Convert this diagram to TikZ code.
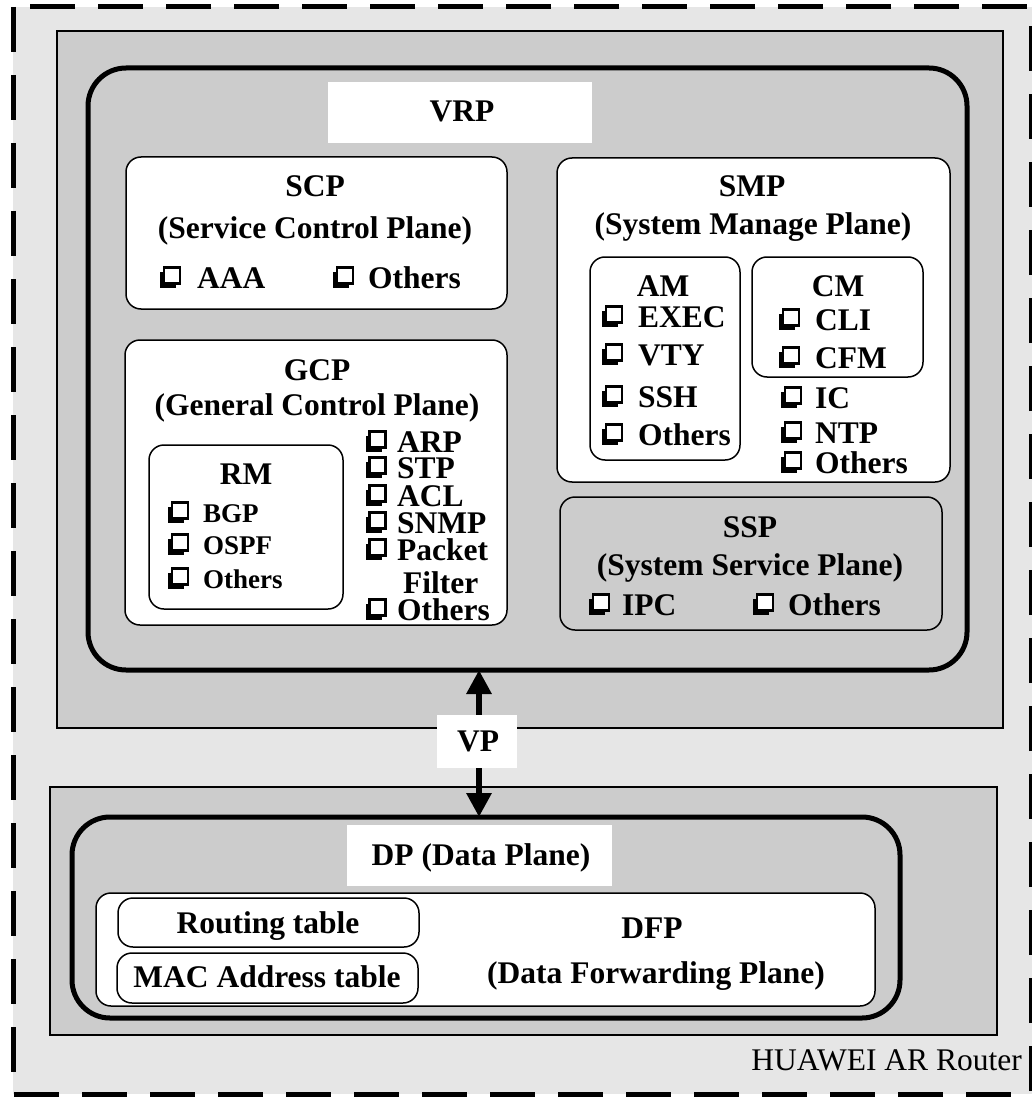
\documentclass[tikz,border=0pt]{standalone}
\usepackage{fontspec}
\setmainfont{Liberation Serif}
\usetikzlibrary{arrows.meta}
\definecolor{outerbg}{HTML}{E6E6E6}
\definecolor{planebg}{HTML}{CCCCCC}

% box node from its corner coordinates: name, style, x1, y1, x2, y2
\newcommand{\blk}[6]{%
  \node[#2, minimum width=#5pt-#3pt, minimum height=#6pt-#4pt]
    (#1) at ({(#3+#5)/2},{(#4+#6)/2}) {};}
% shadowed check box centred on (x,y)
\newcommand{\chk}[2]{%
  \begin{scope}[shift={(#1,#2)}]
    \fill[black] (-10,-6) rectangle (6,10);
    \filldraw[fill=white, draw=black, line width=2.2pt] (-6,-10) rectangle (10,6);
  \end{scope}}
% checklist entry: name, box x, text x, baseline, text
\newcommand{\itm}[5]{%
  \chk{#2}{#4-10.5}
  \node[item] (#1) at (#3,#4) {#5};}
\newcommand{\sitm}[5]{%
  \chk{#2}{#4-9.5}
  \node[sitem] (#1) at (#3,#4) {#5};}

\begin{document}
\begin{tikzpicture}[x=1pt,y=-1pt,
  plane/.style={draw, line width=2.5pt, fill=planebg, inner sep=0pt, outer sep=0pt},
  frame/.style={draw, line width=5pt, fill=planebg, rounded corners=38pt, inner sep=0pt, outer sep=0pt},
  card/.style={draw, line width=1.5pt, fill=white, rounded corners=15pt, inner sep=0pt, outer sep=0pt},
  graycard/.style={card, fill=planebg},
  tag/.style={fill=white, inner sep=0pt, outer sep=0pt},
  title/.style={font=\bfseries\fontsize{31.5}{34}\selectfont, inner sep=0pt, anchor=base},
  item/.style={title, anchor=base west},
  sitem/.style={font=\bfseries\fontsize{27}{30}\selectfont, inner sep=0pt, anchor=base west},
  vparrow/.style={line width=6pt, {Triangle[length=24pt,width=24pt]}-{Triangle[length=24pt,width=24pt]}}
]
\useasboundingbox (0,0) rectangle (1032,1099);

% router enclosure
\fill[outerbg] (13,7) rectangle (1032,1094);
\draw[line width=5pt, dash pattern=on 45pt off 23pt] (13,7) rectangle (1031,1094);
\node[font=\fontsize{31.5}{34}\selectfont, inner sep=0pt, anchor=base east] (router) at (1022,1070) {HUAWEI AR Router};

% ---------- control part ----------
\blk{ctrl}{plane}{57}{31}{1003}{728}
\blk{vrp}{frame}{88}{68}{967}{670}
\blk{vrptag}{tag}{328}{82}{592}{143}
\node[title] (vrplbl) at (462,122) {VRP};

% SCP
\blk{scp}{card}{126}{157}{507}{309}
\node[title] (scpA) at (315,197) {SCP};
\node[title] (scpB) at (315,238) {(Service Control Plane)};
\itm{aaa}{170}{197}{288}{AAA}
\itm{scpo}{343}{368}{288}{Others}

% GCP
\blk{gcp}{card}{125}{340}{507}{625}
\node[title] (gcpA) at (317,380) {GCP};
\node[title] (gcpB) at (317,415) {(General Control Plane)};
\blk{rm}{card}{149}{445}{343}{609}
\node[title] (rmlbl) at (246,484) {RM};
\sitm{bgp}{178}{203}{522}{BGP}
\sitm{ospf}{178}{203}{554}{OSPF}
\sitm{rmo}{178}{203}{588}{Others}
\itm{arp}{375.5}{397}{452}{ARP}
\itm{stp}{375.5}{397}{478}{STP}
\itm{acl}{375.5}{397}{506}{ACL}
\itm{snmp}{375.5}{397}{533}{SNMP}
\itm{pkt}{375.5}{397}{560}{Packet}
\node[item] (filt) at (403,593) {Filter};
\itm{gcpo}{375.5}{397}{620}{Others}

% SMP
\blk{smp}{card}{557}{158}{950}{482}
\node[title] (smpA) at (752,197) {SMP};
\node[title] (smpB) at (753,234) {(System Manage Plane)};
\blk{am}{card}{590}{257}{740}{460}
\node[title] (amlbl) at (663,296) {AM};
\itm{exec}{612}{638}{327}{EXEC}
\itm{vty}{612}{638}{365}{VTY}
\itm{ssh}{612}{638}{407}{SSH}
\itm{amo}{612}{638}{445}{Others}
\blk{cm}{card}{752}{257}{923}{377}
\node[title] (cmlbl) at (838,296) {CM};
\itm{cli}{789}{815}{330}{CLI}
\itm{cfm}{789}{815}{368}{CFM}
\itm{ic}{791}{815}{408}{IC}
\itm{ntp}{791}{815}{443}{NTP}
\itm{smpo}{791}{815}{473}{Others}

% SSP
\blk{ssp}{graycard}{560}{497}{942}{630}
\node[title] (sspA) at (750,537) {SSP};
\node[title] (sspB) at (750,575) {(System Service Plane)};
\itm{ipc}{599}{622}{615}{IPC}
\itm{sspo}{763}{788}{615}{Others}

% ---------- data part ----------
\blk{data}{plane}{50}{787}{997}{1035}
\blk{dp}{frame}{72}{817}{900}{1018}
\blk{dptag}{tag}{347}{825}{612}{886}
\node[title] (dplbl) at (481,865) {DP (Data Plane)};
\blk{dfp}{card}{96}{893}{875}{1006}
\blk{rt}{card}{118}{898}{419}{947}
\node[title] (rtlbl) at (268,933) {Routing table};
\blk{mac}{card}{117}{953}{418}{1003}
\node[title] (maclbl) at (267,987) {MAC Address table};
\node[title] (dfpA) at (652,938) {DFP};
\node[title] (dfpB) at (656,983) {(Data Forwarding Plane)};

% ---------- VP link ----------
\coordinate (vpx) at (479,740);
\draw[vparrow] (vrp.south -| vpx) -- (dp.north -| vpx);
\blk{vptag}{tag}{437}{715}{517}{768}
\node[title] (vplbl) at (478,751) {VP};
\end{tikzpicture}
\end{document}
